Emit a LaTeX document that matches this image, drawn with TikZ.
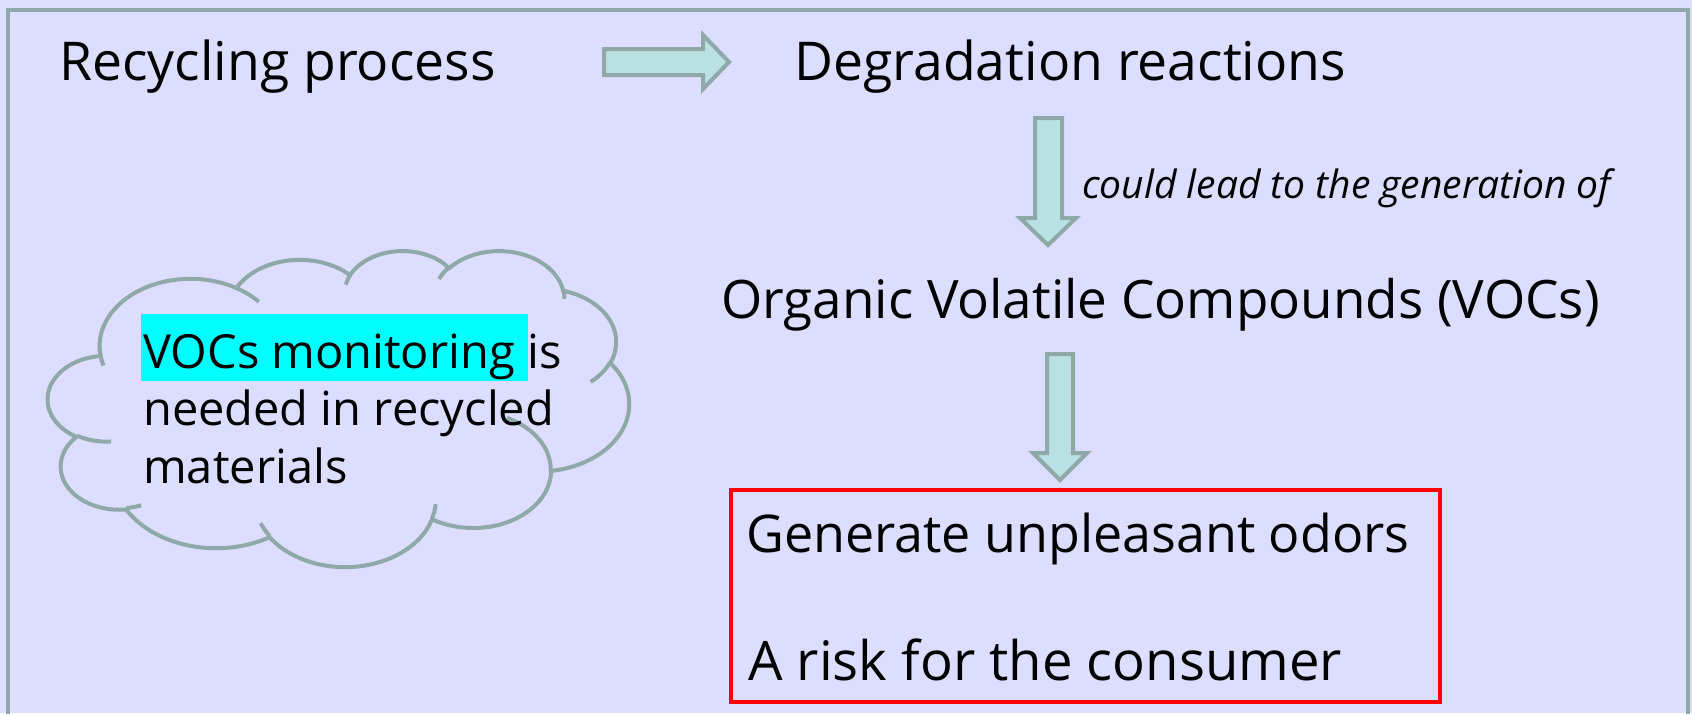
\documentclass[tikz,border=0pt]{standalone}
\usepackage{fontspec}
\setmainfont{Open Sans}
\definecolor{bg}{RGB}{221,221,255}
\definecolor{frm}{RGB}{143,168,168}
\definecolor{arrfill}{RGB}{185,225,227}
\definecolor{hl}{RGB}{0,255,255}
\tikzset{
  txt/.style={anchor=base west, inner sep=0pt, font=\fontsize{#1}{#1}\selectfont},
  txt/.default=54,
  smalltxt/.style={anchor=base west, inner sep=0pt, font=\fontsize{39}{44}\selectfont\itshape},
  blockarrow/.style={draw=frm, fill=arrfill, line width=4pt, line join=miter},
  cloudline/.style={draw=frm, line width=4pt},
}
% compute parametric start/end angles of an elliptic arc given visual angles
\newcommand\ooset[5]{%
  \pgfmathsetmacro\ootmpA{atan2((#2)*sin(#4),(#3)*cos(#4))}%
  \pgfmathsetmacro\ootmpB{atan2((#2)*sin((#4)+(#5)),(#3)*cos((#4)+(#5)))}%
  \pgfmathsetmacro\ootmpD{\ootmpB-\ootmpA}%
  \pgfmathsetmacro\ootmpD{(#5)>0 ? (\ootmpD<0 ? \ootmpD+360 : \ootmpD) : (\ootmpD>0 ? \ootmpD-360 : \ootmpD)}%
  \pgfmathsetmacro\ootmpE{\ootmpA+\ootmpD}%
  \expandafter\xdef\csname ooA#1\endcsname{\ootmpA}%
  \expandafter\xdef\csname ooE#1\endcsname{\ootmpE}%
}
\begin{document}
\begin{tikzpicture}[x=1pt,y=-1pt]
\useasboundingbox (0,0) rectangle (1692,713);
\fill[bg] (0,0) rectangle (1692,713);
\draw[frm, line width=3.5pt] (8,10) rectangle (1688,716);
% block arrows
\draw[blockarrow] (604,49) -- (703,49) -- (703,35) -- (729,62) -- (703,89) -- (703,75) -- (604,75) -- cycle;
\draw[blockarrow] (1035,118) -- (1062,118) -- (1062,218) -- (1076,218) -- (1048,245) -- (1020,218) -- (1035,218) -- cycle;
\draw[blockarrow] (1047,354) -- (1073,354) -- (1073,453) -- (1087,453) -- (1060,480) -- (1033,453) -- (1047,453) -- cycle;
% cloud
\ooset{a}{67.53}{91.90}{-190.4875}{123.7805}
\ooset{b}{53.33}{72.67}{-144.1024}{89.9452}
\ooset{c}{43.65}{59.45}{-145.8079}{99.7230}
\ooset{d}{48.57}{65.95}{-130.9861}{117.2417}
\ooset{e}{53.33}{72.73}{-78.7089}{109.0269}
\ooset{f}{67.75}{92.20}{-46.2673}{130.2690}
\ooset{g}{57.85}{78.67}{0.6250}{114.0333}
\ooset{h}{67.52}{92.15}{22.4516}{115.1726}
\ooset{i}{77.20}{105.43}{66.2426}{75.7110}
\ooset{j}{43.60}{59.18}{-274.9421}{146.7356}
\ooset{k}{43.45}{59.45}{-246.8285}{152.5189}
\ooset{l}{43.45}{59.45}{86.7420}{26.4295}
\ooset{m}{43.60}{59.18}{73.6105}{11.4475}
\ooset{n}{67.52}{92.15}{137.6242}{14.0811}
\ooset{o}{67.52}{92.15}{6.4533}{15.9984}
\ooset{p}{57.85}{78.67}{-70.2924}{70.9174}
\ooset{q}{53.33}{72.73}{30.3180}{27.7515}
\ooset{r}{48.57}{65.95}{-13.7443}{14.8589}
\ooset{s}{48.57}{65.95}{-149.1815}{18.1954}
\ooset{t}{43.65}{59.45}{-163.4943}{17.6864}
\ooset{u}{67.53}{91.90}{-66.7070}{16.8330}
\ooset{v}{67.53}{91.90}{157.6544}{19.6967}
\begin{scope}[shift={(48,250)}, x=1.34491pt, y=-0.73148pt]
\draw[cloudline] (39,143.7)
  arc[x radius=67.53, y radius=91.90, start angle=\ooAa, end angle=\ooEa]
  arc[x radius=53.33, y radius=72.67, start angle=\ooAb, end angle=\ooEb]
  arc[x radius=43.65, y radius=59.45, start angle=\ooAc, end angle=\ooEc]
  arc[x radius=48.57, y radius=65.95, start angle=\ooAd, end angle=\ooEd]
  arc[x radius=53.33, y radius=72.73, start angle=\ooAe, end angle=\ooEe]
  arc[x radius=67.75, y radius=92.20, start angle=\ooAf, end angle=\ooEf]
  arc[x radius=57.85, y radius=78.67, start angle=\ooAg, end angle=\ooEg]
  arc[x radius=67.52, y radius=92.15, start angle=\ooAh, end angle=\ooEh]
  arc[x radius=77.20, y radius=105.43, start angle=\ooAi, end angle=\ooEi]
  arc[x radius=43.60, y radius=59.18, start angle=\ooAj, end angle=\ooEj]
  arc[x radius=43.45, y radius=59.45, start angle=\ooAk, end angle=\ooEk]
  -- cycle;
\draw[cloudline] (46.93,261.77) arc[x radius=43.45, y radius=59.45, start angle=\ooAl, end angle=\ooEl];
\draw[cloudline] (69.28,348.99) arc[x radius=43.60, y radius=59.18, start angle=\ooAm, end angle=\ooEm];
\draw[cloudline] (164.78,390.90) arc[x radius=67.52, y radius=92.15, start angle=\ooAn, end angle=\ooEn];
\draw[cloudline] (288.27,347.51) arc[x radius=67.52, y radius=92.15, start angle=\ooAo, end angle=\ooEo];
\draw[cloudline] (341.29,229.54) arc[x radius=57.85, y radius=78.67, start angle=\ooAp, end angle=\ooEp];
\draw[cloudline] (417.98,153.54) arc[x radius=53.33, y radius=72.73, start angle=\ooAq, end angle=\ooEq];
\draw[cloudline] (383.24,54.26) arc[x radius=48.57, y radius=65.95, start angle=\ooAr, end angle=\ooEr];
\draw[cloudline] (290.78,39.52) arc[x radius=48.57, y radius=65.95, start angle=\ooAs, end angle=\ooEs];
\draw[cloudline] (221.41,47.20) arc[x radius=43.65, y radius=59.45, start angle=\ooAt, end angle=\ooEt];
\draw[cloudline] (140.00,51.92) arc[x radius=67.53, y radius=91.90, start angle=\ooAu, end angle=\ooEu];
\draw[cloudline] (41.27,157.89) arc[x radius=67.53, y radius=91.90, start angle=\ooAv, end angle=\ooEv];
\end{scope}
% texts
\node[txt=53.5] (rp) at (59,80) {Recycling process};
\node[txt=53.5] (dr) at (794,80) {Degradation reactions};
\node[smalltxt] (clt) at (1082,198) {could lead to the generation of};
\node[txt=53] (voc) at (721,318) {Organic Volatile Compounds (VOCs)};
\node[draw=red, line width=4pt, minimum width=709pt, minimum height=212pt, anchor=north west, inner sep=0pt] (box) at (729,488) {};
\node[txt=52] (gen) at (746,552) {Generate unpleasant odors};
\node[txt=54.5] (risk) at (748,680) {A risk for the consumer};
% cloud text
\fill[hl] (141,314) rectangle (528,381);
\node[txt=47] (c1) at (143,368) {VOCs monitoring is};
\node[txt=47] (c2) at (143,425) {needed in recycled};
\node[txt=47] (c3) at (143,483) {materials};
\end{tikzpicture}
\end{document}
